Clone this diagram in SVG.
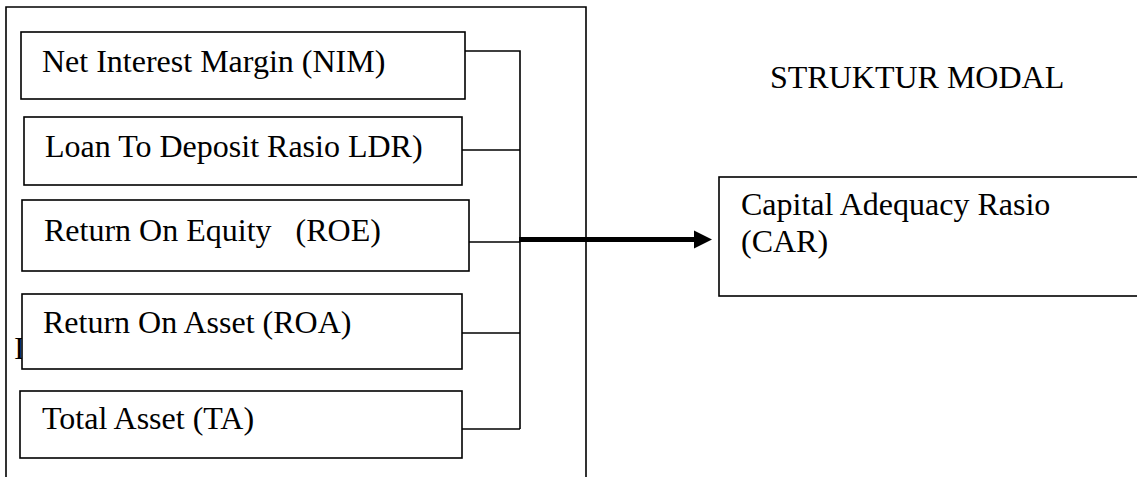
<svg xmlns="http://www.w3.org/2000/svg" width="1137" height="477" viewBox="0 0 1137 477">
  <style>
    .box { fill: #ffffff; stroke: #000000; stroke-width: 1.6; }
    .frame { fill: none; stroke: #000000; stroke-width: 1.6; }
    .lbl { font-family: "Liberation Serif", "Times New Roman", serif; font-size: 32px; fill: #000000; }
    .conn { fill: none; stroke: #000000; stroke-width: 1.6; }
    .thick { fill: none; stroke: #000000; stroke-width: 5; }
  </style>
  <rect x="0" y="0" width="1137" height="477" fill="#ffffff"/>

  <g id="frame">
    <path class="frame" d="M6,480 L6,7 L586,7 L586,480"/>
    <text class="lbl" x="14" y="359">I</text>
  </g>

  <g id="connectors">
    <path class="conn" d="M465,51 L520,51 L520,429"/>
    <path class="conn" d="M462,150 L520,150"/>
    <path class="conn" d="M469,242 L520,242"/>
    <path class="conn" d="M462,333 L520,333"/>
    <path class="conn" d="M462,429 L520,429"/>
    <path class="thick" d="M519,239.5 L696,239.5"/>
    <polygon points="694,230.5 712,239.5 694,248.5" fill="#000000"/>
  </g>

  <g id="node-nim">
    <rect class="box" x="21" y="32" width="444" height="67"/>
    <text class="lbl" x="42" y="72">Net Interest Margin (NIM)</text>
  </g>
  <g id="node-ldr">
    <rect class="box" x="24" y="117" width="438" height="68"/>
    <text class="lbl" x="45" y="157">Loan To Deposit Rasio LDR)</text>
  </g>
  <g id="node-roe">
    <rect class="box" x="22" y="200" width="447" height="71"/>
    <text class="lbl" x="44" y="241" xml:space="preserve">Return On Equity   (ROE)</text>
  </g>
  <g id="node-roa">
    <rect class="box" x="22" y="294" width="440" height="75"/>
    <text class="lbl" x="43" y="333">Return On Asset (ROA)</text>
  </g>
  <g id="node-ta">
    <rect class="box" x="20" y="391" width="442" height="67"/>
    <text class="lbl" x="42" y="429">Total Asset (TA)</text>
  </g>

  <g id="title">
    <text class="lbl" x="770" y="88">STRUKTUR MODAL</text>
  </g>

  <g id="node-car">
    <rect class="box" x="719" y="177" width="430" height="119"/>
    <text class="lbl" x="741" y="215">Capital Adequacy Rasio</text>
    <text class="lbl" x="741" y="252">(CAR)</text>
  </g>
</svg>
